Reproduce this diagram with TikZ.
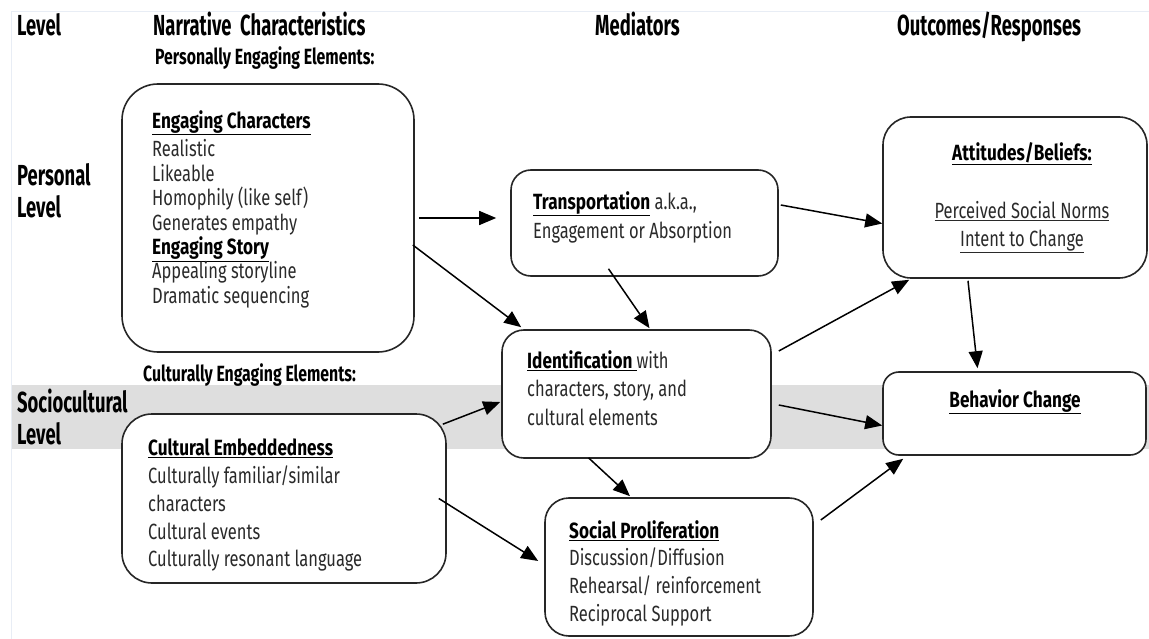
\documentclass[tikz,border=0pt]{standalone}
\usepackage{fontspec}
\setmainfont{Fira Sans}[FakeStretch=0.75]
\newfontfamily\hdrfont{Fira Sans}[FakeStretch=0.635]
\newfontfamily\subfont{Fira Sans}[FakeStretch=0.72]
\newfontfamily\ttlfont{Fira Sans}[FakeStretch=0.78]
\usetikzlibrary{arrows.meta,calc}
\definecolor{bandgray}{HTML}{DEDEDE}
\definecolor{bodytext}{HTML}{2A2A2A}
\definecolor{frameline}{HTML}{E8EDF5}
\tikzset{
  box/.style={draw=black!85, fill=white, line width=1.6pt, rounded corners=#1, inner sep=0pt},
  box/.default=30pt,
  hdr/.style={font=\hdrfont\bfseries\fontsize{29}{32}\selectfont, anchor=base west, inner sep=0pt},
  sub/.style={font=\subfont\bfseries\fontsize{22}{24}\selectfont, anchor=base west, inner sep=0pt},
  body/.style={font=\fontsize{22}{#1}\selectfont, text=bodytext, align=left, anchor=north west, inner sep=0pt},
  body/.default=28,
  arr/.style={line width=1.5pt, -{Triangle[length=17pt,width=14pt]}},
}
\newcommand{\bu}[1]{{\ttlfont\bfseries\color{black}\underline{#1}}}
\begin{document}
\begin{tikzpicture}[x=1pt,y=-1pt]
\useasboundingbox (0,0) rectangle (1149,639);
\fill[white] (0,0) rectangle (1149,639);
% frame lines and band
\draw[frameline, line width=1pt] (11,12) -- (1149,12);
\draw[frameline, line width=1pt] (11,12) -- (11,639);
\fill[bandgray] (12,385) rectangle (1149,449);
% headers
\node[hdr] (hlevel) at (17,36) {Level};
\node[hdr] (hnarr) at (153,36) {Narrative\ \ Characteristics};
\node[hdr] (hmed) at (595,36) {Mediators};
\node[hdr] (hout) at (897,36) {Outcomes/Responses};
\node[sub] (hpers) at (155,65) {Personally Engaging Elements:};
\node[hdr] (lpers1) at (17,186) {Personal};
\node[hdr] (lpers2) at (17,218) {Level};
\node[sub] (hcult) at (143,381) {Culturally Engaging Elements:};
\node[hdr] (lsoc1) at (17,412) {Sociocultural};
\node[hdr] (lsoc2) at (17,444) {Level};
% boxes
\node[box=36pt, minimum width=292pt, minimum height=268pt] (b1) at (268,218) {};
\node[box=30pt, minimum width=324pt, minimum height=169pt] (b2) at (284,498.5) {};
\node[box=20pt, minimum width=267pt, minimum height=106pt] (tr) at (644.5,223) {};
\node[box=22pt, minimum width=269pt, minimum height=128pt] (id) at (636.5,394) {};
\node[box=24pt, minimum width=268pt, minimum height=138pt] (sp) at (679,567) {};
\node[box=28pt, minimum width=264pt, minimum height=161pt] (att) at (1015,197.5) {};
\node[box=16pt, minimum width=263pt, minimum height=83pt] (beh) at (1014.5,413.5) {};
% box texts
\node[body=24.4] (t1) at (152,110) {\bu{Engaging Characters}\\[4.5pt]Realistic\\Likeable\\Homophily (like self)\\Generates empathy\\\bu{Engaging Story}\\Appealing storyline\\Dramatic sequencing};
\node[body=27.7] (t2) at (148,439) {\bu{Cultural Embeddedness}\\Culturally familiar/similar\\characters\\Cultural events\\Culturally resonant language};
\node[body=29] (t3) at (533,191) {\bu{Transportation} a.k.a.,\\Engagement or Absorption};
\node[body=28.5] (t4) at (527,350) {\bu{Identification }with\\characters, story, and\\cultural elements};
\node[body=27.7] (t5) at (569,520) {\bu{Social Proliferation}\\Discussion/Diffusion\\Rehearsal/ reinforcement\\Reciprocal Support};
\node[body=28, align=center, anchor=north] (t6) at (1022,142) {\bu{Attitudes/Beliefs:}\\[30pt]\underline{Perceived Social Norms}\\\underline{Intent to Change}};
\node[body, align=center, anchor=north] (t7) at (1015,389) {\bu{Behavior Change}};
% arrows
\draw[arr] ([shift={(4,0)}]b1.east) -- ([shift={(-14,-5)}]tr.west);
\draw[arr] ([shift={(-2,27)}]b1.east) -- ([shift={(20,-2)}]id.north west);
\draw[arr] ([shift={(-36,-8)}]tr.south) -- ([shift={(13,-1)}]id.north);
\draw[arr] ([shift={(2,-18)}]tr.east) -- ([shift={(0,26)}]att.west);
\draw[arr] ([shift={(7,-43)}]id.east) -- ([shift={(27,1)}]att.south west);
\draw[arr] ([shift={(7,11)}]id.east) -- ([shift={(0,12)}]beh.west);
\draw[arr] ([shift={(-47,2)}]att.south) -- ([shift={(-37,-3)}]beh.north);
\draw[arr] ([shift={(-4,11)}]b2.north east) -- ([shift={(-1,8)}]id.west);
\draw[arr] ([shift={(-8,0)}]b2.east) -- ([shift={(-6,-6)}]sp.west);
\draw[arr] ([shift={(-48,-1)}]id.south) -- ([shift={(-49,-1)}]sp.north);
\draw[arr] ([shift={(7,-47)}]sp.east) -- ([shift={(21,3)}]beh.south west);
\end{tikzpicture}
\end{document}
